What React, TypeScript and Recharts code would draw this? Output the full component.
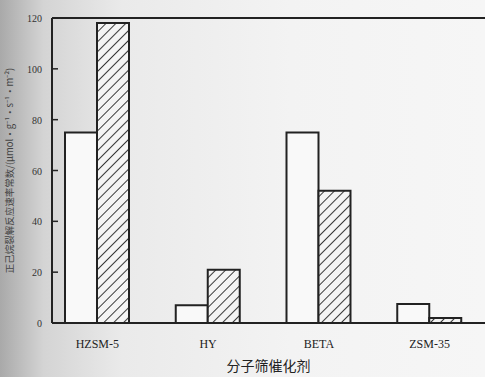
import React from "react";
import { BarChart, Bar, XAxis, YAxis, ReferenceLine } from "recharts";

const categories = ["HZSM-5", "HY", "BETA", "ZSM-35"];
const seriesA = [75, 7, 75, 7.5];
const seriesB = [118, 21, 52, 2];
const yTicks = [0, 20, 40, 60, 80, 100, 120];

const data = categories.map((c, i) => ({ name: c, a: seriesA[i], b: seriesB[i] }));

const YTick = (props: any) => {
  const { x, y, payload } = props;
  return (
    <g>
      <text x={x - 2} y={y} dy={4} textAnchor="end" fontSize={10} fill="#333" fontFamily="Liberation Serif">
        {payload.value}
      </text>
      <line x1={x + 8} x2={x + 14} y1={y} y2={y} stroke="#222" strokeWidth={1.5} />
    </g>
  );
};

export default function App() {
  return (
    <div
      style={{
        position: "absolute",
        left: 0,
        top: 0,
        width: 485,
        height: 377,
        background: "linear-gradient(to right, #a9a9a9 0%, #d4d4d4 9%, #eaeaea 25%, #f3f3f3 60%, #f6f6f6 100%)",
      }}
    >
      <BarChart
        width={485}
        height={377}
        data={data}
        margin={{ top: 18, right: 0, left: 0, bottom: 0 }}
        barGap={0}
        barSize={32}
      >
        <defs>
          <pattern id="hatch" width="7" height="7" patternUnits="userSpaceOnUse" patternTransform="rotate(45)">
            <rect width="7" height="7" fill="#f4f4f4" />
            <line x1="0" y1="0" x2="0" y2="7" stroke="#222" strokeWidth="1.8" />
          </pattern>
        </defs>
        <XAxis
          dataKey="name"
          height={54}
          padding={{ left: -10, right: 0 }}
          axisLine={{ stroke: "#222", strokeWidth: 2 }}
          tickLine={false}
          tickMargin={10}
          tick={{ fontSize: 12, fill: "#222", fontFamily: "Liberation Serif" }}
          label={{
            value: "分子筛催化剂",
            position: "insideBottom",
            offset: 6,
            fontSize: 14,
            fill: "#222",
            fontFamily: "Noto Sans CJK SC",
          }}
        />
        <YAxis
          width={52}
          domain={[0, 120]}
          ticks={yTicks}
          interval={0}
          axisLine={{ stroke: "#222", strokeWidth: 2 }}
          tickLine={false}
          tickSize={0}
          tickMargin={8}
          tick={<YTick />}
          label={{
            value: "正己烷裂解反应速率常数/(μmol·g⁻¹·s⁻¹·m⁻²)",
            angle: -90,
            position: "insideLeft",
            offset: 10,
            fontSize: 9.5,
            fill: "#444",
            fontFamily: "Noto Sans CJK SC",
            style: { textAnchor: "middle" },
          }}
        />
        <ReferenceLine y={120} stroke="#222" strokeWidth={2} />
        <Bar dataKey="a" fill="#f9f9f9" stroke="#222" strokeWidth={2} isAnimationActive={false} />
        <Bar dataKey="b" fill="url(#hatch)" stroke="#222" strokeWidth={2} isAnimationActive={false} />
      </BarChart>
    </div>
  );
}
